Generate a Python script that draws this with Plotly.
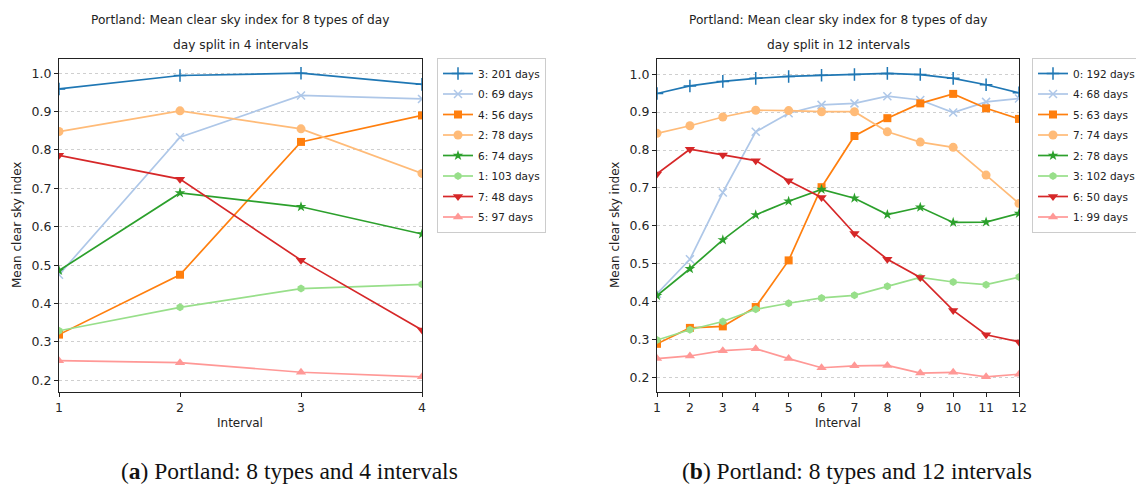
import plotly.graph_objects as go

# ---- data -----------------------------------------------------------------
intervals_4 = [1, 2, 3, 4]
intervals_12 = list(range(1, 13))

labels_4 = ["3: 201 days", "0: 69 days", "4: 56 days", "2: 78 days",
            "6: 74 days", "1: 103 days", "7: 48 days", "5: 97 days"]
csi_4 = [
    [0.959, 0.994, 1.000, 0.971],
    [0.475, 0.833, 0.942, 0.933],
    [0.319, 0.475, 0.821, 0.890],
    [0.848, 0.902, 0.855, 0.739],
    [0.486, 0.688, 0.652, 0.581],
    [0.329, 0.390, 0.439, 0.450],
    [0.786, 0.724, 0.513, 0.331],
    [0.251, 0.246, 0.221, 0.209],
]

labels_12 = ["0: 192 days", "4: 68 days", "5: 63 days", "7: 74 days",
             "2: 78 days", "3: 102 days", "6: 50 days", "1: 99 days"]
csi_12 = [
    [0.949, 0.969, 0.981, 0.989, 0.994, 0.997, 0.999, 1.002, 0.999, 0.989, 0.972, 0.951],
    [0.421, 0.512, 0.688, 0.848, 0.897, 0.919, 0.923, 0.942, 0.932, 0.899, 0.927, 0.936],
    [0.289, 0.331, 0.335, 0.386, 0.509, 0.702, 0.837, 0.884, 0.923, 0.948, 0.910, 0.882],
    [0.844, 0.864, 0.887, 0.905, 0.904, 0.901, 0.901, 0.848, 0.821, 0.807, 0.734, 0.659],
    [0.416, 0.487, 0.563, 0.629, 0.665, 0.696, 0.673, 0.630, 0.649, 0.609, 0.610, 0.633],
    [0.299, 0.326, 0.348, 0.380, 0.396, 0.410, 0.417, 0.441, 0.464, 0.452, 0.445, 0.465],
    [0.737, 0.802, 0.787, 0.772, 0.719, 0.675, 0.580, 0.512, 0.464, 0.377, 0.313, 0.294],
    [0.250, 0.257, 0.271, 0.276, 0.250, 0.226, 0.231, 0.232, 0.212, 0.214, 0.202, 0.209],
]

# ---- styles (tab20 pairs) ---------------------------------------------------
colors = ["#1f77b4", "#aec7e8", "#ff7f0e", "#ffbb78",
          "#2ca02c", "#98df8a", "#d62728", "#ff9896"]
symbols = ["cross-thin", "x-thin", "square", "circle",
           "star", "hexagon", "triangle-down", "triangle-up"]
sizes = [9, 8, 8, 9, 8, 8, 9, 9]

W, H = 1136, 484
def px_x(p):
    return p / W
def px_y(p):
    return 1 - p / H

fig = go.Figure()

def add_series(xs, table, labels, xaxis, yaxis, legend):
    for i, (vals, name) in enumerate(zip(table, labels)):
        thin = symbols[i].endswith("-thin")
        fig.add_trace(go.Scatter(
            x=xs, y=vals, name=name, mode="lines+markers",
            xaxis=xaxis, yaxis=yaxis, legend=legend,
            legendgroup=f"{legend}-{i}",
            line=dict(color=colors[i], width=1.7),
            marker=dict(symbol=symbols[i], size=sizes[i], color=colors[i],
                        line=dict(color=colors[i], width=1.5 if thin else 0)),
        ))

add_series(intervals_4, csi_4, labels_4, "x", "y", "legend")
add_series(intervals_12, csi_12, labels_12, "x2", "y2", "legend2")

tick_font = dict(family="DejaVu Sans", size=12.5, color="#262626")
axis_common = dict(showline=True, mirror=True, linecolor="#222", linewidth=1.2,
                   ticks="outside", ticklen=4, tickcolor="#222",
                   tickfont=tick_font, zeroline=False, automargin=False)

legend_common = dict(yanchor="top", y=px_y(58),
                     bordercolor="#cccccc", borderwidth=1, bgcolor="white",
                     font=dict(family="DejaVu Sans", size=10.5, color="#222"),
                     tracegroupgap=1.5, itemwidth=30)

y_dom = [px_y(392), px_y(59)]
fig.update_layout(
    width=W, height=H,
    margin=dict(l=0, r=0, t=0, b=0, autoexpand=False),
    paper_bgcolor="white", plot_bgcolor="white",
    showlegend=True,
    xaxis=dict(domain=[px_x(59), px_x(422)], range=[1, 4], tickvals=intervals_4,
               showgrid=False, anchor="y", **axis_common),
    yaxis=dict(domain=y_dom, range=[0.1695, 1.037], dtick=0.1, tickformat=".1f",
               showgrid=True, gridcolor="#cfcfcf", griddash="dot", gridwidth=0.8,
               anchor="x", **axis_common),
    xaxis2=dict(domain=[px_x(657), px_x(1019)], range=[1, 12], tickvals=intervals_12,
                showgrid=False, anchor="y2", **axis_common),
    yaxis2=dict(domain=y_dom, range=[0.162, 1.040], dtick=0.1, tickformat=".1f",
                showgrid=True, gridcolor="#cfcfcf", griddash="dot", gridwidth=0.8,
                anchor="x2", **axis_common),
    legend=dict(x=px_x(437), xanchor="left", **legend_common),
    legend2=dict(x=px_x(1032), xanchor="left", **legend_common),
)

label_font = dict(family="DejaVu Sans", size=12, color="#222")
title_font = dict(family="DejaVu Sans", size=12.2, color="#222")
cap_font = dict(family="Liberation Serif", size=23.5, color="#111")

annotations = [
    # panel titles
    dict(x=px_x(240), y=px_y(20), text="Portland: Mean clear sky index for 8 types of day", font=title_font),
    dict(x=px_x(240), y=px_y(45), text="day split in 4 intervals", font=title_font),
    dict(x=px_x(838), y=px_y(20), text="Portland: Mean clear sky index for 8 types of day", font=title_font),
    dict(x=px_x(838), y=px_y(45), text="day split in 12 intervals", font=title_font),
    # axis titles
    dict(x=px_x(240), y=px_y(423), text="Interval", font=label_font),
    dict(x=px_x(838), y=px_y(423), text="Interval", font=label_font),
    dict(x=px_x(17), y=px_y(225), text="Mean clear sky index", font=label_font, textangle=-90),
    dict(x=px_x(615), y=px_y(225), text="Mean clear sky index", font=label_font, textangle=-90),
    # captions
    dict(x=px_x(289), y=px_y(471), text="(<b>a</b>) Portland: 8 types and 4 intervals", font=cap_font),
    dict(x=px_x(857), y=px_y(471), text="(<b>b</b>) Portland: 8 types and 12 intervals", font=cap_font),
]
for a in annotations:
    a.update(xref="paper", yref="paper", showarrow=False, xanchor="center", yanchor="middle")
fig.update_layout(annotations=annotations)

fig.write_html("out.html")
